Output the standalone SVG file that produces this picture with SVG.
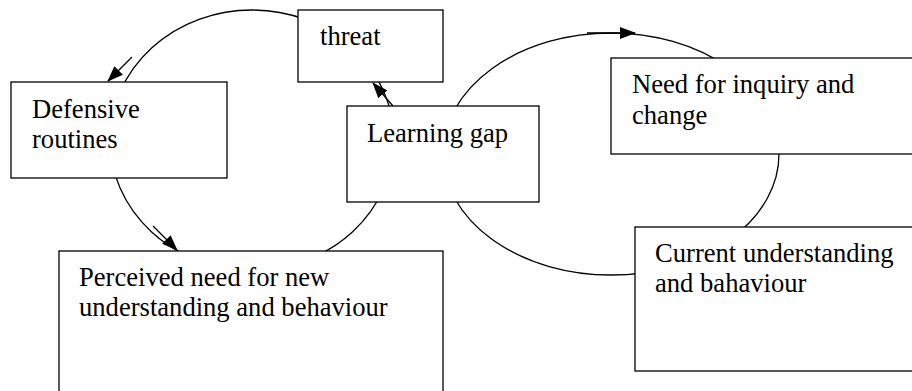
<svg xmlns="http://www.w3.org/2000/svg" width="912" height="391" viewBox="0 0 912 391">
<defs>
<marker id="ah" markerWidth="16" markerHeight="12" refX="15" refY="6" orient="auto" markerUnits="userSpaceOnUse">
<path d="M0,0 L16,6 L0,12 Z" fill="#000"/>
</marker>
<style>
.box{fill:#fff;stroke:#000;stroke-width:1.3}
.c{fill:none;stroke:#000;stroke-width:1.3}
</style>
</defs>
<rect width="912" height="391" fill="#fff"/>
<g id="connectors">
<ellipse class="c" cx="252" cy="140" rx="142" ry="130"/>
<ellipse class="c" cx="611" cy="154" rx="168" ry="121"/>
<line class="c" x1="132" y1="57" x2="108" y2="81" marker-end="url(#ah)"/>
<line class="c" x1="153" y1="226" x2="177" y2="250" marker-end="url(#ah)"/>
<line class="c" x1="393" y1="106" x2="373" y2="83" marker-end="url(#ah)"/>
<line class="c" x1="587" y1="33" x2="635" y2="33" marker-end="url(#ah)"/>
</g>
<g font-family="'Liberation Serif', 'Times New Roman', 'DejaVu Serif', serif" font-size="26.6" fill="#000">
<g id="threat"><rect class="box" x="298" y="10" width="145" height="72"/><text x="320" y="45">threat</text></g>
<g id="defensive"><rect class="box" x="11" y="82" width="216" height="96"/><text x="32" y="118">Defensive</text><text x="32" y="148">routines</text></g>
<g id="learning"><rect class="box" x="347" y="106" width="192" height="96"/><text x="367" y="142">Learning gap</text></g>
<g id="need"><rect class="box" x="611" y="58" width="320" height="96"/><text x="632" y="93">Need for inquiry and</text><text x="632" y="124">change</text></g>
<g id="current"><rect class="box" x="635" y="227" width="300" height="144"/><text x="655" y="262">Current understanding</text><text x="655" y="292">and bahaviour</text></g>
<g id="perceived"><rect class="box" x="59" y="251" width="384" height="160"/><text x="79" y="286">Perceived need for new</text><text x="79" y="316">understanding and behaviour</text></g>
</g>
</svg>
